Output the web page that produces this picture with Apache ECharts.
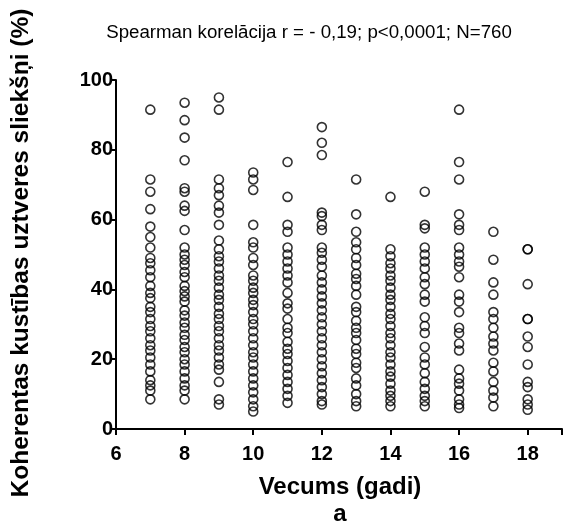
<!DOCTYPE html>
<html>
<head>
<meta charset="utf-8">
<script src="https://cdn.jsdelivr.net/npm/echarts@6/dist/echarts.min.js"></script>
<style>html,body{margin:0;padding:0;background:#fff}#c{width:576px;height:524px}</style>
</head>
<body>
<div id="c"></div>
<script>
const ages = [7, 8, 9, 10, 11, 12, 13, 14, 15, 16, 17, 18];
const age7 = [91.5, 71.5, 68, 63, 58, 55, 52, 49, 47.5, 45.5, 43.5, 41, 39, 37.5, 35, 33.5, 31.5, 29.5, 28, 26, 24, 22.5, 20.5, 18.5, 16.5, 14, 12.5, 11, 8.5];
const age8 = [93.5, 88.5, 83.5, 77, 69, 68, 64, 62.5, 57, 52, 50, 48.5, 47, 45, 43.5, 41, 39.5, 38, 36.5, 34, 32.5, 30.5, 29, 27, 25.5, 23.5, 22, 20, 18.5, 16.5, 14.5, 12.5, 11, 8.5];
const age9 = [95, 91.5, 71.5, 69, 67, 64, 62, 58.5, 54, 51.5, 49.5, 48, 46, 44, 42.5, 40.5, 38.5, 37, 35, 33, 31.5, 29.5, 28, 26, 24, 22.5, 20.5, 18.5, 17, 13.5, 8.5, 7];
const age10 = [73.5, 71.5, 68.5, 58.5, 53.5, 52, 49, 47, 44, 42.5, 40.5, 39, 37, 35.5, 33.5, 31.5, 30, 28, 26, 24, 22, 20.5, 18.5, 16.5, 14.5, 12.5, 10.5, 8.5, 6.5, 5];
const age11 = [76.5, 66.5, 58.5, 56.5, 52, 50, 48, 46, 44, 42, 39, 36, 34.5, 31.5, 29, 27.5, 25, 23, 21.5, 19.5, 17.5, 15.5, 13.5, 11.5, 9.5, 7.5];
const age12 = [86.5, 82, 78.5, 62, 61, 58.5, 57, 52, 50.5, 48.5, 46.5, 44, 42, 40, 38, 36, 34, 32, 30, 28, 26, 24, 22, 20, 18, 16, 14, 12, 10, 8, 7];
const age13 = [71.5, 61.5, 56.5, 53.5, 51.5, 49, 47, 44.5, 43, 41, 38.5, 35, 33.5, 31, 29, 27.5, 25.5, 23, 21.5, 19, 17.5, 14.5, 12.5, 10, 8, 6.5];
const age14 = [66.5, 51.5, 49.5, 47.5, 46, 44, 42.5, 40.5, 38.5, 37, 35, 33, 31.5, 29.5, 27.5, 26, 24, 22, 20.5, 18.5, 16.5, 15, 13, 11, 9.5, 8, 6.5];
const age15 = [68, 58.5, 57.5, 52, 50, 48, 46, 43.5, 41.5, 38.5, 36.5, 32, 29.5, 27.5, 23.5, 20.5, 18.5, 16, 13.5, 11.5, 9.5, 8, 6.5];
const age16 = [91.5, 76.5, 71.5, 61.5, 58.5, 57, 52, 50, 48, 46.5, 43.5, 38.5, 36.5, 33.5, 29, 27.5, 24.5, 22.5, 17, 14.5, 13, 11, 8.5, 7, 6];
const age17 = [56.5, 48.5, 42, 38.5, 33.5, 31.5, 29, 26.5, 24.5, 22.5, 19, 16.5, 13.5, 11, 9, 6.5];
const age18 = [51.5, 51.5, 41.5, 31.5, 31.5, 26.5, 23.5, 18.5, 13.5, 12, 8.5, 7, 5.5];
const xTicks = [6, 8, 10, 12, 14, 16, 18];
const yTicks = [0, 20, 40, 60, 80, 100];

const byAge = [age7, age8, age9, age10, age11, age12, age13, age14, age15, age16, age17, age18];
const points = [];
ages.forEach((a, i) => byAge[i].forEach(v => points.push([a, v])));

const chart = echarts.init(document.getElementById('c'), null, {renderer: 'canvas'});
const F = 'Liberation Sans, Arial, Helvetica, sans-serif';
chart.setOption({
  animation: false,
  backgroundColor: '#fff',
  grid: {left: 116, right: 14, top: 80, bottom: 95, containLabel: false},
  xAxis: {
    type: 'value', min: 6, max: 19, interval: 2,
    axisLine: {show: true, onZero: false, lineStyle: {color: '#000', width: 2}},
    axisTick: {show: true, length: 6, lineStyle: {color: '#000', width: 2}},
    axisLabel: {color: '#000', fontFamily: F, fontWeight: 'bold', fontSize: 20, margin: 15,
      formatter: v => xTicks.includes(v) ? String(v) : ''},
    splitLine: {show: false}
  },
  yAxis: {
    type: 'value', min: 0, max: 100, interval: 20,
    axisLine: {show: true, onZero: false, lineStyle: {color: '#000', width: 2}},
    axisTick: {show: true, length: 6, lineStyle: {color: '#000', width: 2}},
    axisLabel: {color: '#000', fontFamily: F, fontWeight: 'bold', fontSize: 20, margin: 3,
      formatter: v => yTicks.includes(v) ? String(v) : ''},
    splitLine: {show: false}
  },
  series: [{
    type: 'scatter',
    data: points,
    symbol: 'circle',
    symbolSize: 9,
    itemStyle: {color: 'rgba(0,0,0,0)', borderColor: '#000', borderWidth: 1.6},
    emphasis: {disabled: true}
  }],
  graphic: [
    {type: 'text', x: 309, y: 33, style: {text: 'Spearman korelācija r = - 0,19; p<0,0001; N=760', font: '18.7px ' + F, fill: '#000', textAlign: 'center', textVerticalAlign: 'middle'}},
    {type: 'text', x: 340, y: 487, style: {text: 'Vecums (gadi)', font: 'bold 24px ' + F, fill: '#000', textAlign: 'center', textVerticalAlign: 'middle'}},
    {type: 'text', x: 340, y: 514, style: {text: 'a', font: 'bold 24px ' + F, fill: '#000', textAlign: 'center', textVerticalAlign: 'middle'}},
    {type: 'text', x: 21, y: 253, rotation: Math.PI / 2, style: {text: 'Koherentas kustības uztveres sliekšņi (%)', font: 'bold 24.5px ' + F, fill: '#000', textAlign: 'center', textVerticalAlign: 'middle'}}
  ]
});
</script>
</body>
</html>
